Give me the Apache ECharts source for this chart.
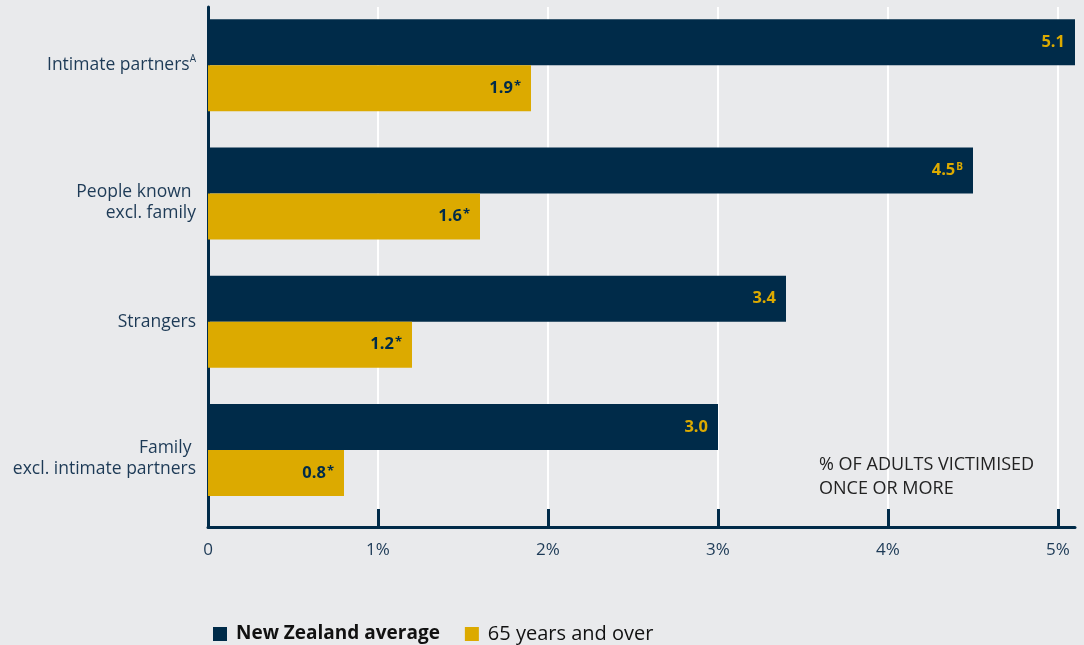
<!DOCTYPE html>
<html><head><meta charset="utf-8">
<script src="https://cdn.jsdelivr.net/npm/echarts@6/dist/echarts.min.js"></script>
<style>html,body{margin:0;padding:0;background:#e9eaec}#c{width:1084px;height:645px}</style>
</head><body><div id="c"></div>
<script>
const categories = ['Intimate partners', 'People known \nexcl. family', 'Strangers', 'Family \nexcl. intimate partners'];
const categoryNotes = ['A', '', '', ''];
const seriesNames = ['New Zealand average', '65 years and over'];
const nzValues = [5.1, 4.5, 3.4, 3.0];
const nzNotes = ['', 'B', '', ''];
const olderValues = [1.9, 1.6, 1.2, 0.8];
const olderNotes = ['*', '*', '*', '*'];
const tickValues = [0, 1, 2, 3, 4, 5];
const tickLabels = ['0', '1%', '2%', '3%', '4%', '5%'];
const noteText = '% OF ADULTS VICTIMISED\nONCE OR MORE';

const NAVY = '#002b49', GOLD = '#dcaa00', TEXT = '#1d3a56';
const FONT = 'Open Sans';
const XMAX = 5.1;
const L = 208, R = 9;

const chart = echarts.init(document.getElementById('c'), null, {renderer: 'canvas'});
chart.setOption({
  backgroundColor: '#e9eaec',
  animation: false,
  textStyle: {fontFamily: FONT},
  title: {
    text: noteText, left: 814, top: 448,
    textStyle: {fontFamily: FONT, fontSize: 18, fontWeight: 'normal', color: '#222', lineHeight: 24}
  },
  legend: {
    left: 208, top: 619, itemWidth: 14, itemHeight: 14, itemGap: 25,
    icon: 'rect',
    textStyle: {fontFamily: FONT, fontSize: 19, color: '#111'},
    data: [
      {name: seriesNames[0], textStyle: {fontWeight: 'bold', fontSize: 19, padding: [0, 0, 0, 4]}},
      {name: seriesNames[1], textStyle: {fontWeight: 'normal', fontSize: 20, padding: [0, 0, 0, 4]}}
    ]
  },
  grid: [
    {left: L, right: R, top: 1, height: 513},
    {left: L, right: R, top: 7, height: 520},
    {left: L, right: R, top: 7, height: 502}
  ],
  xAxis: [
    {gridIndex: 0, type: 'value', min: 0, max: XMAX, show: false},
    {gridIndex: 1, type: 'value', min: 0, max: XMAX, interval: 1,
     axisLine: {show: true, lineStyle: {color: NAVY, width: 3}},
     axisTick: {show: true, inside: true, length: 18, lineStyle: {color: NAVY, width: 3}, customValues: tickValues.slice(1)},
     axisLabel: {show: true, customValues: tickValues, margin: 15, fontSize: 17, color: TEXT, fontFamily: FONT,
       formatter: v => { const i = tickValues.indexOf(Math.round(v * 10) / 10); return i >= 0 ? tickLabels[i] : ''; }},
     splitLine: {show: false}},
    {gridIndex: 2, type: 'value', min: 0, max: XMAX, interval: 1,
     axisLine: {show: false}, axisLabel: {show: false},
     axisTick: {show: false, customValues: tickValues.slice(1)},
     splitLine: {show: true, lineStyle: {color: '#ffffff', width: 2}}}
  ],
  yAxis: [
    {gridIndex: 0, type: 'category', inverse: true,
     data: categories.map(c => c.indexOf('\n') >= 0 ? {value: c, textStyle: {padding: [18, 0, 0, 0]}} : c),
     axisLine: {show: false}, axisTick: {show: false},
     axisLabel: {margin: 12, fontSize: 17.5, color: TEXT, fontFamily: FONT, lineHeight: 21, align: 'right',
       formatter: (v, i) => categoryNotes[i] ? v + '{sup|' + categoryNotes[i] + '}' : v,
       rich: {sup: {fontSize: 10, color: TEXT, fontFamily: FONT, verticalAlign: 'top', lineHeight: 21, padding: [0, 0, 6, 0]}}}},
    {gridIndex: 1, type: 'value', min: 0, max: 1,
     axisLine: {show: true, onZero: false, lineStyle: {color: NAVY, width: 3}},
     axisTick: {show: false}, axisLabel: {show: false}, splitLine: {show: false}},
    {gridIndex: 2, type: 'value', min: 0, max: 1, show: false, splitLine: {show: false}}
  ],
  series: [
    {name: seriesNames[0], type: 'bar', xAxisIndex: 0, yAxisIndex: 0, barWidth: 46, barGap: '0%',
     itemStyle: {color: NAVY}, z: 3,
     data: nzValues,
     label: {show: true, position: 'insideRight', distance: 10, fontSize: 16.5, fontWeight: 'bold', color: GOLD, fontFamily: FONT,
       formatter: p => p.value.toFixed(1) + (nzNotes[p.dataIndex] ? '{sup|' + nzNotes[p.dataIndex] + '}' : ''),
       rich: {sup: {fontSize: 10, color: GOLD, fontFamily: FONT, verticalAlign: 'top', padding: [0, 0, 6, 1]}}}},
    {name: seriesNames[1], type: 'bar', xAxisIndex: 0, yAxisIndex: 0, barWidth: 46, barGap: '0%',
     itemStyle: {color: GOLD}, z: 3,
     data: olderValues,
     label: {show: true, position: 'insideRight', distance: 10, fontSize: 16.5, fontWeight: 'bold', color: NAVY, fontFamily: FONT,
       formatter: p => p.value.toFixed(1) + '{sup|' + olderNotes[p.dataIndex] + '}',
       rich: {sup: {fontSize: 13, color: NAVY, fontWeight: 'bold', fontFamily: FONT, verticalAlign: 'top', padding: [0, 0, 4, 1]}}}}
  ]
});
</script></body></html>
